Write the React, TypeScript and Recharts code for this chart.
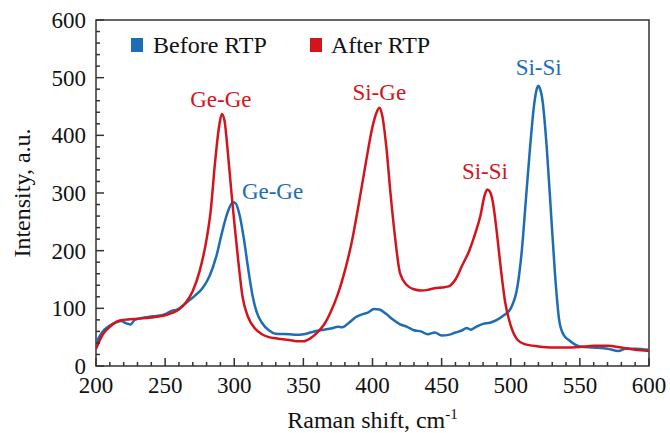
import React from 'react';
import { LineChart, Line, XAxis, YAxis, ReferenceArea, ReferenceDot, Legend } from 'recharts';

const BLUE = '#1c6db4';
const RED = '#d3141c';
const FONT = '"Liberation Serif", "Times New Roman", serif';

// Before RTP (blue)
const beforeX = [200, 205, 210, 215, 218, 222, 225, 228, 235, 240, 245, 250, 255, 258, 262, 267, 272, 277, 282, 287, 291, 295, 299, 301, 304, 307, 310, 313, 316, 320, 325, 330, 340, 345, 350, 355, 360, 365, 370, 375, 378, 383, 388, 393, 397, 401, 405, 410, 415, 420, 425, 430, 435, 440, 445, 450, 455, 460, 465, 468, 471, 475, 480, 485, 490, 495, 500, 505, 508, 511, 514, 517, 519, 520, 521, 523, 526, 529, 532, 535, 538, 542, 546, 550, 560, 570, 578, 583, 590, 600];
const beforeY = [40, 60, 70, 76, 78, 74, 72, 80, 84, 86, 87, 90, 96, 97, 103, 113, 123, 135, 155, 190, 230, 265, 284, 282, 260, 220, 170, 125, 95, 75, 62, 56, 55, 54, 55, 58, 61, 63, 65, 68, 67, 75, 85, 90, 93, 99, 98, 90, 80, 72, 68, 62, 60, 55, 58, 53, 54, 58, 62, 66, 63, 68, 73, 75, 80, 88, 100, 140, 200, 290, 380, 455, 482, 486, 482, 460, 380, 270, 160, 80, 55, 45, 38, 34, 32, 30, 26, 30, 30, 28];

// After RTP (red)
const afterX = [200, 205, 210, 215, 220, 230, 240, 250, 255, 260, 265, 270, 275, 280, 283, 286, 289, 291, 293, 295, 298, 300, 303, 306, 310, 315, 320, 325, 330, 340, 345, 350, 355, 360, 365, 370, 375, 380, 385, 390, 395, 400, 403, 405, 407, 410, 413, 416, 420, 425, 430, 435, 440, 445, 450, 455, 460, 465, 470, 475, 478, 481, 483, 485, 487, 490, 493, 496, 500, 505, 510, 520, 530, 540, 550, 560, 570, 580, 590, 600];
const afterY = [30, 55, 68, 77, 80, 82, 84, 88, 92, 98, 110, 130, 165, 220, 270, 350, 415, 437, 425, 380, 300, 250, 180, 120, 85, 65, 55, 50, 48, 45, 43, 43, 48, 58, 72, 95, 125, 165, 215, 280, 350, 415, 440, 448, 435, 380, 300, 230, 160, 140, 133, 131, 132, 135, 136, 138, 150, 175, 200, 235, 260, 295, 306, 302, 285, 230, 165, 110, 70, 45, 38, 34, 32, 32, 33, 35, 35, 32, 28, 26];

const xTickValues = [200, 210, 220, 230, 240, 250, 260, 270, 280, 290, 300, 310, 320, 330, 340, 350, 360, 370, 380, 390, 400, 410, 420, 430, 440, 450, 460, 470, 480, 490, 500, 510, 520, 530, 540, 550, 560, 570, 580, 590, 600];
const yTickValues = [0, 20, 40, 60, 80, 100, 120, 140, 160, 180, 200, 220, 240, 260, 280, 300, 320, 340, 360, 380, 400, 420, 440, 460, 480, 500, 520, 540, 560, 580, 600];

const annotationText = ['Ge-Ge', 'Ge-Ge', 'Si-Ge', 'Si-Si', 'Si-Si'];
const annotationX = [290.3, 327.7, 404.9, 481.3, 520.2];
const annotationY = [463, 303, 475, 338, 517];
const annotationSeries = ['after', 'before', 'after', 'after', 'before'];

const seriesNames = ['Before RTP', 'After RTP'];

const beforeData = beforeX.map((x, i) => ({ x, y: beforeY[i] }));
const afterData = afterX.map((x, i) => ({ x, y: afterY[i] }));

const XTick = (props: any) => {
  const { x, y, payload } = props;
  const major = payload.value % 50 === 0;
  return (
    <g>
      <line x1={x} x2={x} y1={y} y2={y - (major ? 8 : 4)} stroke="#333" strokeWidth={1.5} />
      {major && (
        <text x={x} y={y + 27} textAnchor="middle" fontFamily={FONT} fontSize={23} fill="#111">
          {payload.value}
        </text>
      )}
    </g>
  );
};

const YTick = (props: any) => {
  const { x, y, payload } = props;
  const major = payload.value % 100 === 0;
  return (
    <g>
      <line x1={x} x2={x + (major ? 8 : 4)} y1={y} y2={y} stroke="#333" strokeWidth={1.5} />
      {major && (
        <text x={x - 10} y={y + 8} textAnchor="end" fontFamily={FONT} fontSize={23} fill="#111">
          {payload.value}
        </text>
      )}
    </g>
  );
};

const XTitle = (props: any) => {
  const vb = props.viewBox;
  const cx = vb.x + vb.width / 2;
  return (
    <text x={cx} y={428} textAnchor="middle" fontFamily={FONT} fontSize={24} fill="#111">
      Raman shift, cm
      <tspan dy={-9} fontSize={15}>-1</tspan>
    </text>
  );
};

const YTitle = (props: any) => {
  const vb = props.viewBox;
  const cy = vb.y + vb.height / 2;
  return (
    <text
      x={22}
      y={cy}
      transform={`rotate(-90 22 ${cy})`}
      textAnchor="middle"
      dominantBaseline="central"
      fontFamily={FONT}
      fontSize={24}
      fill="#111"
    >
      Intensity, a.u.
    </text>
  );
};

const LegendContent = () => (
  <div style={{ position: 'relative', width: 670, height: 0, fontFamily: FONT }}>
    <div style={{ position: 'absolute', left: 131, top: 38, width: 12, height: 14, background: BLUE }} />
    <div style={{ position: 'absolute', left: 153, top: 30, fontSize: 24, lineHeight: '30px', color: '#111', whiteSpace: 'nowrap' }}>
      {seriesNames[0]}
    </div>
    <div style={{ position: 'absolute', left: 310, top: 38, width: 12, height: 14, background: RED }} />
    <div style={{ position: 'absolute', left: 331, top: 30, fontSize: 24, lineHeight: '30px', color: '#111', whiteSpace: 'nowrap' }}>
      {seriesNames[1]}
    </div>
  </div>
);

export default function App() {
  return (
    <div style={{ position: 'absolute', left: 0, top: 0, width: 670, height: 433, background: '#fff' }}>
      <LineChart width={670} height={433} margin={{ top: 20, right: 21, bottom: 0, left: 0 }}>
        <XAxis
          dataKey="x"
          type="number"
          domain={[200, 600]}
          ticks={xTickValues}
          allowDataOverflow
          axisLine={false}
          tickLine={false}
          tickSize={0}
          tickMargin={0}
          height={67}
          interval={0}
          tick={<XTick />}
          label={<XTitle />}
        />
        <YAxis
          type="number"
          domain={[0, 600]}
          ticks={yTickValues}
          allowDataOverflow
          axisLine={false}
          tickLine={false}
          tickSize={0}
          tickMargin={0}
          width={96}
          interval={0}
          tick={<YTick />}
          label={<YTitle />}
        />
        <ReferenceArea x1={200} x2={600} y1={0} y2={600} fill="none" stroke="#333" strokeWidth={1.5} />
        <Line
          data={beforeData}
          dataKey="y"
          name={seriesNames[0]}
          type="monotone"
          stroke={BLUE}
          strokeWidth={2.5}
          dot={false}
          isAnimationActive={false}
        />
        <Line
          data={afterData}
          dataKey="y"
          name={seriesNames[1]}
          type="monotone"
          stroke={RED}
          strokeWidth={2.5}
          dot={false}
          isAnimationActive={false}
        />
        {annotationText.map((t, i) => (
          <ReferenceDot
            key={i}
            x={annotationX[i]}
            y={annotationY[i]}
            r={0}
            shape={(p: any) => (
              <text
                x={p.cx}
                y={p.cy}
                textAnchor="middle"
                dominantBaseline="central"
                fontFamily={FONT}
                fontSize={23}
                fill={annotationSeries[i] === 'after' ? RED : BLUE}
              >
                {t}
              </text>
            )}
          />
        ))}
        <Legend
          content={<LegendContent />}
          wrapperStyle={{ position: 'absolute', left: 0, top: 0, width: 670, height: 0 }}
        />
      </LineChart>
    </div>
  );
}
